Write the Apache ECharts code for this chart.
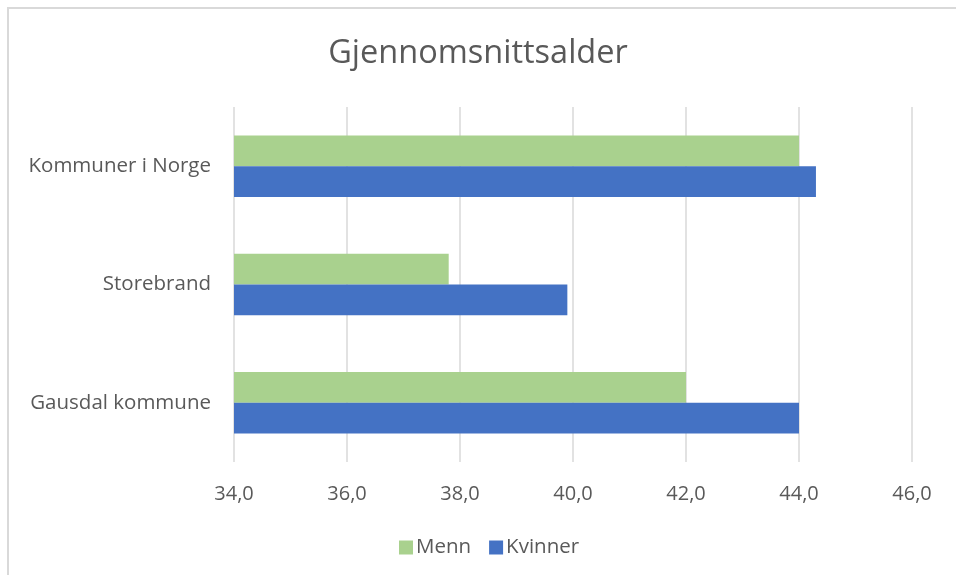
<!DOCTYPE html>
<html>
<head>
    <meta charset="UTF-8" />
    <title>Gjennomsnittsalder</title>
    <script src="https://cdn.jsdelivr.net/npm/echarts@6/dist/echarts.min.js"></script>
    <style>
        html, body { margin: 0; padding: 0; background: #fff; }
        #main { width: 956px; height: 575px; }
    </style>
</head>
<body>
    <div id="main"></div>
    <script>
        // kategorier, nederst først (slik ECharts legger dem)
        var categories = ['Gausdal kommune', 'Storebrand', 'Kommuner i Norge'];
        var menn = [42.0, 37.8, 44.0];
        var kvinner = [44.0, 39.9, 44.3];
        var xTicks = [34, 36, 38, 40, 42, 44, 46];

        var textColor = '#595959';
        var font = 'Open Sans';

        var myChart = echarts.init(document.getElementById('main'));
        var option = {
            backgroundColor: '#fff',
            animation: false,
            title: {
                text: 'Gjennomsnittsalder',
                left: 'center',
                top: 32,
                textStyle: { fontFamily: font, fontSize: 32.5, fontWeight: 'normal', color: textColor }
            },
            graphic: [{
                type: 'rect',
                shape: { x: 8, y: 8, width: 970, height: 590 },
                style: { fill: null, stroke: '#D9D9D9', lineWidth: 2 },
                silent: true
            }],
            legend: {
                data: ['Menn', 'Kvinner'],
                left: 394,
                top: 532,
                itemWidth: 14,
                itemHeight: 14,
                itemGap: 18,
                icon: 'rect',
                textStyle: { fontFamily: font, fontSize: 20.5, color: textColor, padding: [0, 0, 0, -2] }
            },
            grid: { left: 234, right: 44, top: 107, bottom: 113 },
            xAxis: {
                type: 'value',
                min: xTicks[0],
                max: xTicks[xTicks.length - 1],
                interval: 2,
                axisLine: { show: false },
                axisTick: { show: false },
                splitLine: { lineStyle: { color: '#D9D9D9', width: 1.5 } },
                axisLabel: {
                    margin: 22,
                    fontFamily: font,
                    fontSize: 20,
                    color: textColor,
                    formatter: function (v) { return v.toFixed(1).replace('.', ','); }
                }
            },
            yAxis: {
                type: 'category',
                data: categories,
                axisLine: { show: false },
                axisTick: { show: false },
                axisLabel: { margin: 23, fontFamily: font, fontSize: 20.5, color: textColor }
            },
            series: [
                {
                    name: 'Menn',
                    type: 'bar',
                    data: menn,
                    barGap: '0%',
                    barCategoryGap: '48%',
                    itemStyle: { color: '#A9D18E' }
                },
                {
                    name: 'Kvinner',
                    type: 'bar',
                    data: kvinner,
                    barGap: '0%',
                    barCategoryGap: '48%',
                    itemStyle: { color: '#4472C4' }
                }
            ]
        };
        myChart.setOption(option);
    </script>
</body>
</html>
